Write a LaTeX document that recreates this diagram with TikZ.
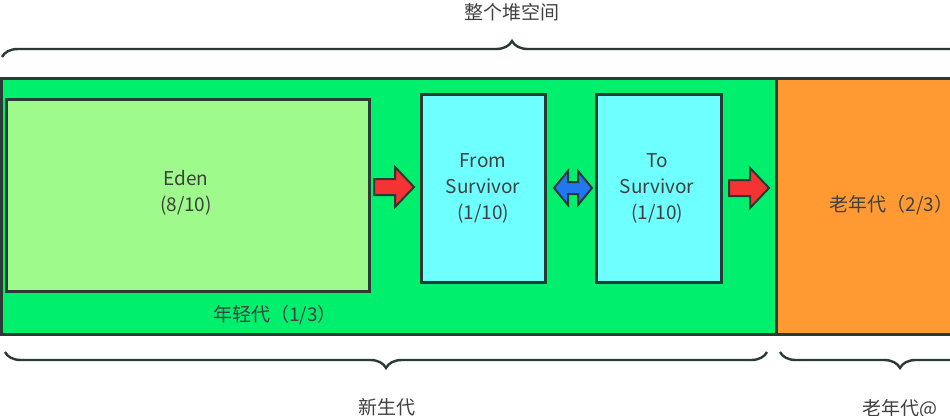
\documentclass[tikz,border=0pt]{standalone}
\usepackage{fontspec}
\setmainfont{Noto Sans CJK SC}
\usetikzlibrary{decorations.pathreplacing}
\definecolor{txt}{HTML}{404040}
\definecolor{edge}{HTML}{2B3A34}
\definecolor{youngc}{HTML}{00F06E}
\definecolor{oldc}{HTML}{FF9A33}
\definecolor{edenc}{HTML}{9EFA8A}
\definecolor{survc}{HTML}{6EFFFF}
\definecolor{redc}{HTML}{F53333}
\definecolor{bluec}{HTML}{2277F0}
\tikzset{x=1pt,y=-1pt,
 box/.style={draw=edge,line width=2.5pt,anchor=north west,inner sep=0pt},
 lbl/.style={text=txt,font=\fontsize{19}{26}\selectfont,align=center},
 brc/.style={draw=edge,line width=2.4pt,decorate,decoration={brace,amplitude=16pt}},
 arr/.style={draw=edge,line width=2pt,line join=miter}}
\begin{document}
\begin{tikzpicture}
\useasboundingbox (0,0) rectangle (950,415);
\clip (0,0) rectangle (950,415);
\fill[white] (0,0) rectangle (950,415);
\node[box,fill=oldc,minimum width=200pt,minimum height=256pt] (old) at (775,77) {};
\node[box,fill=youngc,minimum width=775pt,minimum height=256pt] (young) at (0,77) {};
\node[box,fill=edenc,minimum width=363pt,minimum height=192pt] (eden) at (5,98) {};
\node[box,fill=survc,minimum width=124pt,minimum height=188pt] (from) at (420,93) {};
\node[box,fill=survc,minimum width=125pt,minimum height=188pt] (to) at (595,93) {};
\node[lbl] (edent) at (186,193) {Eden\\(8/10)};
\node[lbl] (fromt) at (483,188) {From\\Survivor\\(1/10)};
\node[lbl] (tot) at (657,188) {To\\Survivor\\(1/10)};
\node[lbl,anchor=west] (oldt) at (826,205) {老年代（2/3）};
\node[lbl] (yt) at (275,315) {年轻代（1/3）};
\coordinate (a1) at (394,187);
\coordinate (a2) at (573,188);
\coordinate (a3) at (749,188);
\foreach \c in {a1,a3}{
 \begin{scope}[shift={(\c)}]
 \filldraw[arr,fill=redc] (-20,-8) -- (1,-8) -- (1,-20) -- (20,0) -- (1,20) -- (1,8) -- (-20,8) -- cycle;
 \end{scope}}
\begin{scope}[shift={(a2)}]
 \filldraw[arr,fill=bluec] (-19,0) -- (-5,-17) -- (-5,-6) -- (5,-6) -- (5,-17) -- (19,0) -- (5,17) -- (5,6) -- (-5,6) -- (-5,17) -- cycle;
\end{scope}
\draw[brc] (2,57) -- (1022,57);
\node[lbl] (top) at (512,12) {整个堆空间};
\draw[brc] (767,352) -- (5,352);
\node[lbl] (ng) at (387,407) {新生代};
\draw[brc] (1020,352) -- (780,352);
\node[lbl] (og) at (900,409) {老年代@};
\end{tikzpicture}
\end{document}
